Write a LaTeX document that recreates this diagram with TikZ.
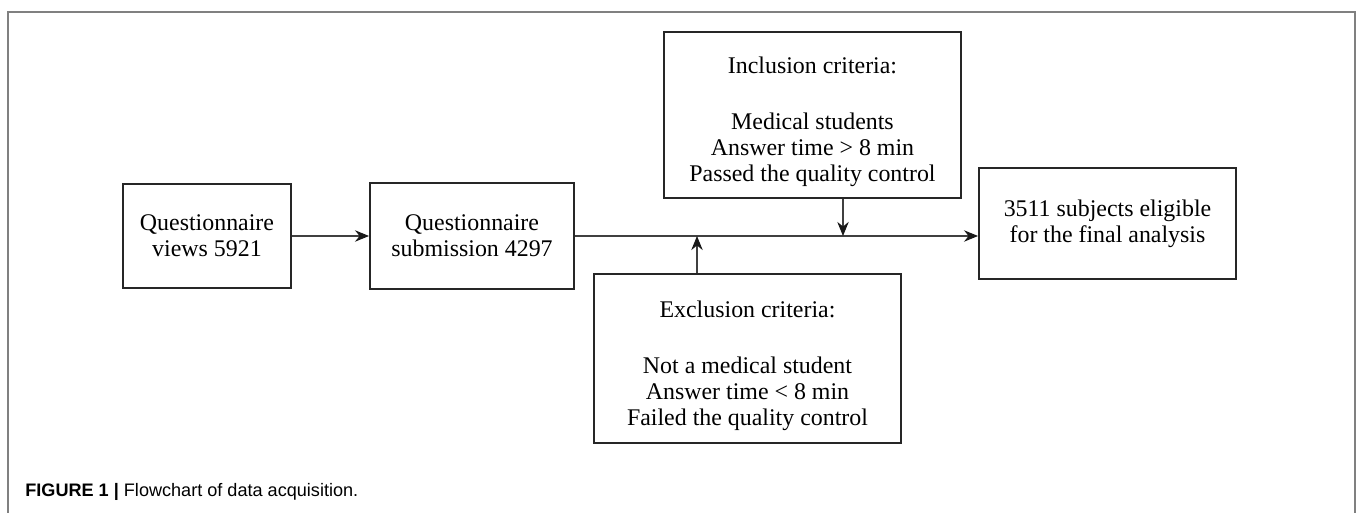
\documentclass[tikz,border=0pt]{standalone}
\usepackage{fontspec}
\setmainfont{Liberation Serif}
\setsansfont{Liberation Sans}
\usetikzlibrary{arrows.meta}
\usetikzlibrary{positioning}
\tikzset{box/.style = {draw = black!85, line width = 1.1pt, inner sep = 0,
                       align = center, font = \fontsize{13.6}{14.8}\selectfont}}
\tikzset{flow/.style = {draw = black!75, line width = 0.6pt,
                        -{Stealth[length = 8pt, width = 6.5pt, black!90]}}}
\definecolor{framegray}{rgb}{0.5, 0.5, 0.5}
\newcommand{\headgap}{\rule{0pt}{17.5pt}}

\begin{document}
\begin{tikzpicture}[x = 0.02cm, y = -0.02cm]
    \clip (0, 0) rectangle (1357, 513);
    \useasboundingbox (0, 0) rectangle (1357, 513);
    \draw [framegray, line width = 1.1pt] (8, 530) -- (8, 12) -- (1355, 12) -- (1355, 530);

    \node [box, minimum width = 3.36cm, minimum height = 2.08cm] (views) at (207, 236)
      {Questionnaire\\views 5921};
    \node [box, minimum width = 4.08cm, minimum height = 2.12cm] (submit) at (472, 236)
      {Questionnaire\\submission 4297};
    \node [box, minimum width = 5.14cm, minimum height = 2.22cm] (eligible) at (1107.5, 223.5)
      {3511 subjects eligible\\for the final analysis};
    \node [box, minimum width = 5.94cm, minimum height = 3.32cm] (incl) at (812.5, 115)
      {\headgap Inclusion criteria:\\[17pt]Medical students\\Answer time > 8 min\\Passed the quality control};
    \node [box, minimum width = 6.14cm, minimum height = 3.38cm] (excl) at (747.5, 358.5)
      {\headgap Exclusion criteria:\\[17pt]Not a medical student\\Answer time < 8 min\\Failed the quality control};

    \coordinate (injoin) at (843, 236);
    \coordinate (exjoin) at (697, 236);

    \draw [flow] (views) -- (submit);
    \draw [flow] (submit.east) -- (submit.east -| eligible.west);
    \draw [flow] (incl.south -| injoin) -- (injoin);
    \draw [flow] (excl.north -| exjoin) -- (exjoin);

    \node [anchor = base west, font = \sffamily\fontsize{10.3}{12}\selectfont, inner sep = 0] (caption) at (25, 497)
      {\textbf{FIGURE 1 |} Flowchart of data acquisition.};
  \end{tikzpicture}
\end{document}
